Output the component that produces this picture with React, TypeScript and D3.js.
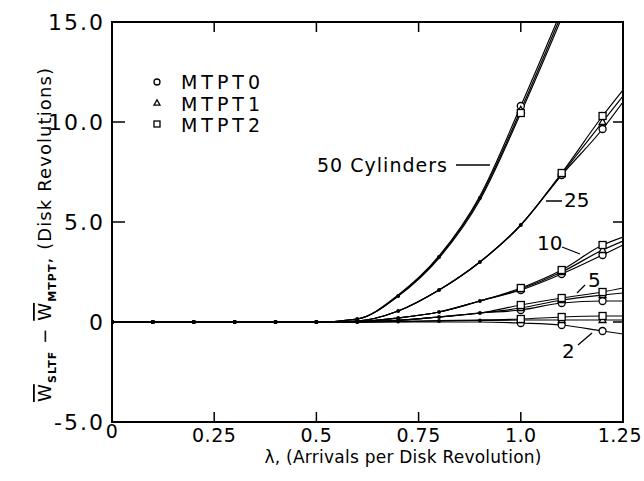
import * as d3 from "d3";

// λ grid the curves were computed on
const lambdas = [0, 0.1, 0.2, 0.3, 0.4, 0.5, 0.6, 0.7, 0.8, 0.9, 1.0, 1.1, 1.2, 1.25];

// W_SLTF - W_MTPT per cylinder count, one array per MTPT variant
const cyl50Mtpt0 = [0, 0, 0, 0, 0, 0, 0.15, 1.35, 3.3, 6.3, 10.8, 15.6];
const cyl50Mtpt1 = [0, 0, 0, 0, 0, 0, 0.15, 1.3, 3.25, 6.2, 10.6, 15.4];
const cyl50Mtpt2 = [0, 0, 0, 0, 0, 0, 0.15, 1.3, 3.2, 6.1, 10.45, 15.2];

const cyl25Mtpt0 = [0, 0, 0, 0, 0, 0, 0.05, 0.55, 1.6, 3.0, 4.85, 7.35, 9.65, 11.0];
const cyl25Mtpt1 = [0, 0, 0, 0, 0, 0, 0.05, 0.55, 1.6, 3.0, 4.85, 7.4, 10.0, 11.3];
const cyl25Mtpt2 = [0, 0, 0, 0, 0, 0, 0.05, 0.55, 1.6, 3.0, 4.85, 7.45, 10.3, 11.6];

const cyl10Mtpt0 = [0, 0, 0, 0, 0, 0, 0.02, 0.2, 0.5, 1.05, 1.6, 2.4, 3.35, 3.85];
const cyl10Mtpt1 = [0, 0, 0, 0, 0, 0, 0.02, 0.2, 0.5, 1.05, 1.65, 2.5, 3.6, 4.05];
const cyl10Mtpt2 = [0, 0, 0, 0, 0, 0, 0.02, 0.2, 0.5, 1.05, 1.7, 2.6, 3.85, 4.25];

const cyl5Mtpt0 = [0, 0, 0, 0, 0, 0, 0.01, 0.08, 0.25, 0.45, 0.6, 0.95, 1.05, 1.05];
const cyl5Mtpt1 = [0, 0, 0, 0, 0, 0, 0.01, 0.08, 0.25, 0.45, 0.7, 1.1, 1.35, 1.45];
const cyl5Mtpt2 = [0, 0, 0, 0, 0, 0, 0.01, 0.08, 0.25, 0.45, 0.85, 1.2, 1.5, 1.7];

const cyl2Mtpt0 = [0, 0, 0, 0, 0, 0, 0, 0, 0, 0, -0.05, -0.15, -0.45, -0.6];
const cyl2Mtpt1 = [0, 0, 0, 0, 0, 0, 0, 0.02, 0.05, 0.08, 0.1, 0.1, 0.1, 0.1];
const cyl2Mtpt2 = [0, 0, 0, 0, 0, 0, 0, 0.03, 0.07, 0.1, 0.15, 0.25, 0.3, 0.3];

// λ values where the simulation markers sit, per curve group
const markers50 = [1.0];
const markers25 = [1.1, 1.2];
const markersSmall = [1.0, 1.1, 1.2];

const groups = [
  { series: [cyl50Mtpt0, cyl50Mtpt1, cyl50Mtpt2], marks: markers50 },
  { series: [cyl25Mtpt0, cyl25Mtpt1, cyl25Mtpt2], marks: markers25 },
  { series: [cyl10Mtpt0, cyl10Mtpt1, cyl10Mtpt2], marks: markersSmall },
  { series: [cyl5Mtpt0, cyl5Mtpt1, cyl5Mtpt2], marks: markersSmall },
  { series: [cyl2Mtpt0, cyl2Mtpt1, cyl2Mtpt2], marks: markersSmall },
];

const legendLabels = ["MTPT0", "MTPT1", "MTPT2"];
const xTicks = [0, 0.25, 0.5, 0.75, 1.0, 1.25];
const xTickLabels = ["0", "0.25", "0.5", "0.75", "1.0", "1.25"];
const yTicks = [-5, 0, 5, 10, 15];
const yTickLabels = ["-5.0", "0", "5.0", "10.0", "15.0"];

const W = 644;
const H = 481;
const FONT = "'DejaVu Sans', 'Liberation Sans', sans-serif";

function Marker({ kind, cx, cy, size }: { kind: number; cx: number; cy: number; size: number }) {
  const common = { fill: "#fff", stroke: "#000", strokeWidth: 1.3 };
  if (kind === 0) return <circle cx={cx} cy={cy} r={size * 0.5} {...common} />;
  if (kind === 1) {
    const h = size * 0.9;
    const p = `${cx},${cy - h * 0.6} ${cx - size * 0.5},${cy + h * 0.4} ${cx + size * 0.5},${cy + h * 0.4}`;
    return <polygon points={p} {...common} />;
  }
  return <rect x={cx - size / 2} y={cy - size / 2} width={size} height={size} {...common} />;
}

export default function App() {
  const x = d3.scaleLinear().domain([0, 1.25]).range([112, 623]);
  const y = d3.scaleLinear().domain([-5, 15]).range([422, 22]);

  const line = d3
    .line<number>()
    .x((_, i) => x(lambdas[i]))
    .y((d) => y(d))
    .curve(d3.curveMonotoneX);

  const idx = (l: number) => lambdas.findIndex((v) => Math.abs(v - l) < 1e-9);

  return (
    <svg
      width={W}
      height={H}
      style={{ position: "absolute", left: 0, top: 0, background: "#fff" }}
      fontFamily={FONT}
    >
      <defs>
        <clipPath id="plot">
          <rect x={x(0)} y={y(15)} width={x(1.25) - x(0)} height={y(-5) - y(15)} />
        </clipPath>
      </defs>

      {/* curves */}
      <g clipPath="url(#plot)">
        {groups.map((g, gi) => (
          <g key={gi}>
            {g.series.map((s, si) => (
              <path key={si} d={line(s) || ""} fill="none" stroke="#000" strokeWidth={1.2} />
            ))}
            {/* computed points (small dots) wherever there is no marker */}
            {lambdas
              .filter((l, i) => i < g.series[1].length && l <= 1.0 && !g.marks.includes(l))
              .map((l) => (
                <circle key={l} cx={x(l)} cy={y(g.series[1][idx(l)])} r={2} fill="#000" />
              ))}
          </g>
        ))}
      </g>

      {/* simulation markers */}
      {groups.map((g, gi) =>
        g.series.map((s, si) =>
          g.marks.map((l) => (
            <Marker key={`${gi}-${si}-${l}`} kind={si} cx={x(l)} cy={y(s[idx(l)])} size={7} />
          ))
        )
      )}

      {/* frame */}
      <rect
        x={x(0)}
        y={y(15)}
        width={x(1.25) - x(0)}
        height={y(-5) - y(15)}
        fill="none"
        stroke="#000"
        strokeWidth={2}
      />
      {xTicks.slice(1, -1).map((t) => (
        <g key={t}>
          <line x1={x(t)} x2={x(t)} y1={y(-5)} y2={y(-5) - 10} stroke="#000" strokeWidth={1.5} />
          <line x1={x(t)} x2={x(t)} y1={y(15)} y2={y(15) + 10} stroke="#000" strokeWidth={1.5} />
        </g>
      ))}
      {yTicks.slice(1, -1).map((t) => (
        <g key={t}>
          <line x1={x(0)} x2={x(0) + 13} y1={y(t)} y2={y(t)} stroke="#000" strokeWidth={1.5} />
          <line x1={x(1.25)} x2={x(1.25) - 10} y1={y(t)} y2={y(t)} stroke="#000" strokeWidth={1.5} />
        </g>
      ))}

      {/* tick labels */}
      {yTicks.map((t, i) => (
        <text key={t} x={105} y={y(t) + 8} textAnchor="end" fontSize={22} letterSpacing={2}>
          {yTickLabels[i]}
        </text>
      ))}
      {xTicks.map((t, i) => (
        <text
          key={t}
          x={i === 5 ? 642 : x(t)}
          y={i === 0 ? 438 : 442}
          textAnchor={i === 5 ? "end" : "middle"}
          fontSize={19}
          letterSpacing={0.5}
        >
          {xTickLabels[i]}
        </text>
      ))}

      {/* axis titles */}
      <text x={403} y={463} textAnchor="middle" fontSize={17} textLength={277} lengthAdjust="spacing">
        λ, (Arrivals per Disk Revolution)
      </text>
      <text
        transform="translate(51,235) rotate(-90)"
        textAnchor="middle"
        fontSize={18}
        textLength={334}
        lengthAdjust="spacing"
      >
        <tspan style={{ textDecoration: "overline" }}>W</tspan>
        <tspan fontSize={11} fontWeight="bold" dy={5}>SLTF</tspan>
        <tspan dy={-5}> − </tspan>
        <tspan style={{ textDecoration: "overline" }}>W</tspan>
        <tspan fontSize={11} fontWeight="bold" dy={5}>MTPT</tspan>
        <tspan dy={-5}>, (Disk Revolutions)</tspan>
      </text>

      {/* legend */}
      {legendLabels.map((lab, i) => (
        <g key={lab}>
          <Marker kind={i} cx={157} cy={82 + i * 21} size={6} />
          <text x={181} y={89 + i * 21.5} fontSize={19} textLength={79} lengthAdjust="spacing">
            {lab}
          </text>
        </g>
      ))}

      {/* curve labels */}
      <text x={317} y={172} fontSize={19} textLength={130} lengthAdjust="spacing">50 Cylinders</text>
      <line x1={456} x2={490} y1={165} y2={165} stroke="#000" strokeWidth={1.5} />
      <text x={564} y={207} fontSize={20}>25</text>
      <line x1={546} x2={562} y1={201} y2={201} stroke="#000" strokeWidth={1.5} />
      <text x={537} y={250} fontSize={20}>10</text>
      <line x1={562} x2={580} y1={247} y2={254} stroke="#000" strokeWidth={1.3} />
      <text x={588} y={287} fontSize={20}>5</text>
      <line x1={585} x2={577} y1={285} y2={293} stroke="#000" strokeWidth={1.3} />
      <text x={562} y={358} fontSize={20}>2</text>
      <line x1={578} x2={592} y1={345} y2={333} stroke="#000" strokeWidth={1.3} />
    </svg>
  );
}
